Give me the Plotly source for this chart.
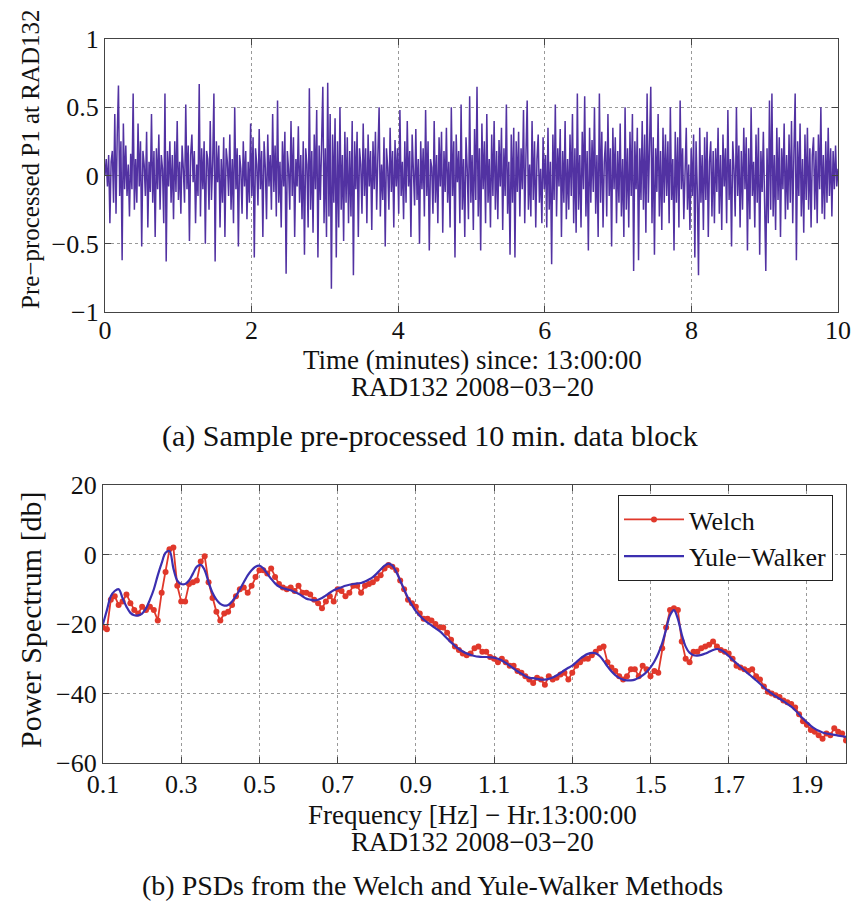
import plotly.graph_objects as go

# ---------------- data ----------------
# top panel: pre-processed signal (hundredths), one value per second over 10 minutes
signal_centi = [
    0, 12, -8, 15, -35, 10, 18, -20, 45, -28, 30, 66, -15, 25, -62, 38, -10, 22, -15, 8,
    -30, 16, -10, 60, -25, 12, -20, 38, -8, 25, -52, 18, 8, -15, 32, -38, 10, -12, 45, -20,
    18, -45, 20, -10, 30, -25, 15, 5, -35, 60, -63, 18, -8, 25, -20, 15, -32, 25, -12, 40,
    -18, 10, -28, 22, 5, -20, 52, -10, 22, -48, 15, 30, -5, 18, -35, 8, -15, 67, -30, 20,
    -10, 25, -50, 18, 12, -25, 40, -18, 10, 60, -63, 25, -5, 22, -38, 12, -20, 28, -45, 20,
    10, -15, 30, -25, 12, -35, 50, -10, 20, -52, 15, 5, -28, 25, -8, 18, -32, 10, -20, 38,
    -15, 28, -60, 20, 8, -22, 34, -10, 18, -45, 25, 6, -32, 30, -8, 15, -25, 45, -12, 22,
    -30, 55, -20, 10, -38, 25, -8, 32, -72, 18, 5, -25, 40, -15, 28, -45, 12, -8, 36, -20,
    15, -32, 25, -58, 20, 8, -38, 64, -25, 18, -42, 30, -10, 48, -60, 22, -18, 35, 65, -35,
    20, -45, 68, -30, 45, -83, 30, -20, 42, -60, 25, -38, 50, -25, 15, -48, 32, -20, 28, -35,
    18, -30, 40, -73, 25, -10, 32, -45, 20, 8, -28, 38, -15, 20, -35, 30, -8, 18, -40, 25,
    -10, 32, -25, 15, 50, -30, 8, -18, 28, -52, 20, 6, -25, 35, -12, 18, -38, 26, -8, 20,
    -28, 48, -15, 10, -32, 25, -20, 40, -8, 18, -45, 30, 5, -22, 34, -18, 12, -50, 25, -10,
    20, -30, 48, -15, 25, -55, 12, 6, -28, 40, -20, 15, -35, 28, -8, 32, -42, 18, -12, 35,
    -20, 10, -38, 50, -15, 25, -60, 30, -5, 18, -35, 52, -25, 12, -45, 28, 5, -32, 58, -20,
    15, -40, 34, -18, 65, -30, 20, -55, 38, -10, 25, -35, 45, -20, 12, -38, 30, -15, 40, -25,
    18, -32, 26, -8, 35, -40, 20, -15, 52, -28, 10, -58, 30, -20, 35, -60, 25, -12, 32, -30,
    20, -10, 48, -35, 15, 55, -25, 8, -30, 40, -18, 25, -38, 12, 30, -20, 5, -35, 28, -10,
    15, -38, 35, -25, 10, -65, 30, -18, 52, -30, 20, -8, 34, -45, 18, -20, 40, -32, 12, -25,
    30, -15, 45, -35, 20, -42, 60, -25, 15, -38, 32, -10, 58, -30, 18, -55, 35, -20, 26, -12,
    50, -28, 15, -45, 60, -20, 32, -38, 10, 25, -30, 45, -15, 20, -52, 35, -10, 28, -35, 18,
    -20, 38, -30, 12, -45, 50, -25, 20, -38, 32, -15, 45, -70, 25, -10, 35, -62, 20, -18, 40,
    -25, 30, -42, 60, -20, 15, 65, -35, 28, -58, 20, -12, 45, -30, 18, -40, 35, -20, 30, -15,
    25, -35, 50, -18, 12, -55, 32, -20, 28, -38, 55, -10, 20, -32, 15, 35, -25, 8, -40, 20,
    -15, 30, -60, 25, -10, -73, 35, -20, 15, -40, 28, -18, 32, -45, 10, 25, -30, 18, -35, 20,
    -12, 35, -28, 15, -40, 30, -8, 20, -35, 48, -18, 12, -52, 25, 5, -30, 50, -15, 22, -38,
    18, -25, 35, -10, 28, -55, 20, -32, 50, -15, 10, -38, 30, -20, 35, -58, 18, -12, 32, -28,
    -70, 20, -35, 55, -25, 60, -30, 15, -40, 35, -18, 28, -45, 20, -10, 38, -32, 15, -25, 30,
    -20, 40, -35, 18, 60, -62, 25, -15, 38, -30, 12, -42, 30, -18, 35, -25, 20, -38, 15, 28,
    -25, 18, -35, 30, -10, 50, -28, 15, -32, 25, -20, 35, -15, 20, -30, 18, -10, 22, -8, 5,
]
signal = [v / 100 for v in signal_centi]
time_min = [i * 10 / (len(signal) - 1) for i in range(len(signal))]

# bottom panel: frequencies 0.10 ... 2.00 Hz step 0.01
freq = [round(0.10 + 0.01 * i, 2) for i in range(191)]
welch_db = [
    -21, -21.5, -13, -12, -14.5, -13.5, -11.5, -14, -16, -17,
    -15, -16, -15, -16, -19, -11, -5, 1.5, 2, -9,
    -13.5, -13.5, -8.5, -8, -7.5, -2, -0.5, -8, -12.5, -16.5,
    -19, -17, -16.5, -14.5, -12, -10, -9.5, -11, -9, -6.5,
    -4.5, -4.5, -5.5, -4, -6.5, -8.5, -9.5, -10, -9.5, -10.5,
    -9, -11, -11, -11.5, -13, -14, -15.5, -13.5, -12, -13.5,
    -10, -10.5, -12, -11, -9, -9, -11, -9, -8.5, -8,
    -7, -6, -4, -3, -3.5, -4.5, -7.5, -10, -13, -14,
    -15, -17, -18.5, -18.5, -19, -20, -21, -21, -22.5, -24.5,
    -26.5, -27.5, -28.5, -29, -28.5, -27, -26.5, -28, -28, -29.5,
    -30, -31, -30, -31, -32, -32, -33.5, -34, -35, -36,
    -37, -35.5, -36, -37.5, -35, -36, -35.5, -34.5, -34, -36,
    -34, -32, -31, -30, -30, -29, -28, -27, -26.5, -31,
    -32.5, -33.5, -35, -36, -35, -33, -33, -35, -32, -33,
    -35, -33.5, -34, -27, -21, -16, -15.5, -16, -25, -30,
    -31, -28, -28, -27, -26.5, -26, -25, -26.5, -27.5, -28,
    -28.5, -30, -32, -32.5, -33, -33.5, -33, -35, -36, -38,
    -39.5, -40, -40.5, -41, -42, -42.5, -43, -44, -46, -48,
    -49, -50.5, -51, -52, -53, -51.5, -52, -50, -51, -51.5,
    -53.5,
]
yule_walker_db = [
    -20, -16, -12, -10.5, -10, -12.5, -15, -16.8, -17.5, -17.5,
    -17, -15.5, -13, -10, -6, -2.5, 0.5, 1, -4, -7.5,
    -8.5, -8.5, -7.5, -5.5, -3.5, -3, -4.5, -8, -11, -13,
    -14.2, -14.7, -14.5, -13.5, -12, -10, -8, -6, -4.5, -3.5,
    -3.2, -4, -5.5, -7, -8.3, -9.2, -9.7, -10, -10.3, -10.8,
    -11.3, -12, -12.7, -13, -13.2, -13, -12.5, -11.8, -11, -10.3,
    -9.8, -9.4, -9, -8.7, -8.5, -8.3, -8.2, -7.8, -7.2, -6.5,
    -5.5, -4.3, -3.2, -2.6, -3.2, -5, -7.5, -10, -12.5, -14.5,
    -16.3, -17.6, -18.7, -19.6, -20.4, -21.2, -22, -23, -24.2, -25.3,
    -26.3, -27.2, -27.9, -28.5, -28.9, -29.2, -29.4, -29.5, -29.5, -29.6,
    -29.7, -30, -30.5, -31.2, -32, -32.8, -33.6, -34.3, -35, -35.5,
    -35.6, -35.8, -36, -36, -35.8, -35.4, -34.8, -34.1, -33.3, -32.6,
    -32, -31, -30, -29.2, -28.6, -28.3, -28.4, -29.2, -30.6, -32.2,
    -33.6, -34.7, -35.5, -36, -36.2, -36.2, -36, -35.5, -34.8, -33.8,
    -32.5, -30.8, -28.5, -25.5, -21.5, -17.5, -16, -18.5, -23, -26.5,
    -28.3, -29, -29.1, -28.9, -28.5, -28, -27.5, -27.2, -27.5, -28.2,
    -29.2, -30.3, -31.3, -32.3, -33.3, -34.3, -35.2, -36.2, -37.2, -38.2,
    -39.2, -40, -40.8, -41.5, -42.2, -43, -43.8, -44.8, -46, -47.2,
    -48.3, -49.3, -50.1, -50.7, -51.2, -51.5, -51.7, -51.9, -52.1, -52.3,
    -52.5,
]

time_ticks = [0, 2, 4, 6, 8, 10]
sig_ticks = [-1, -0.5, 0, 0.5, 1]
freq_ticks = [0.1, 0.3, 0.5, 0.7, 0.9, 1.1, 1.3, 1.5, 1.7, 1.9]
psd_ticks = [-60, -40, -20, 0, 20]

# ---------------- figure ----------------
W, H = 852, 902
FONT = "Liberation Serif"

def px_x(p):
    return p / W

def px_y(p):
    return 1 - p / H

fig = go.Figure()
fig.add_trace(go.Scatter(x=time_min, y=signal, mode="lines",
                         line=dict(color="#5232a2", width=1.5),
                         showlegend=False, xaxis="x", yaxis="y"))
fig.add_trace(go.Scatter(x=freq, y=welch_db, mode="lines+markers", name="Welch",
                         line=dict(color="#e0382b", width=1.8),
                         marker=dict(color="#e0382b", size=6),
                         xaxis="x2", yaxis="y2"))
fig.add_trace(go.Scatter(x=freq, y=yule_walker_db, mode="lines", name="Yule−Walker",
                         line=dict(color="#3b2fb0", width=2.2, shape="spline"),
                         xaxis="x2", yaxis="y2"))

axis_common = dict(showline=True, mirror="allticks", linecolor="#444", linewidth=1.3,
                   ticks="inside", ticklen=6, tickcolor="#444", automargin=False,
                   showgrid=True, gridcolor="#999", griddash="dot", gridwidth=1,
                   zeroline=False, tickfont=dict(family=FONT, size=26, color="#111"))

fig.update_layout(
    width=W, height=H, margin=dict(l=0, r=0, t=0, b=0, autoexpand=False),
    paper_bgcolor="white", plot_bgcolor="white",
    font=dict(family=FONT, color="#111"),
    xaxis=dict(domain=[px_x(105), px_x(838)], range=[0, 10], tickvals=time_ticks,
               anchor="y", ticklabelstandoff=-5, **axis_common),
    yaxis=dict(domain=[px_y(312), px_y(39)], range=[-1, 1], tickvals=sig_ticks,
               ticktext=["−1", "−0.5", "0", "0.5", "1"], anchor="x", **axis_common),
    xaxis2=dict(domain=[px_x(103), px_x(846)], range=[0.1, 2.0], tickvals=freq_ticks,
                ticktext=[f"{v:.1f}" for v in freq_ticks], anchor="y2",
                ticklabelstandoff=-2, **axis_common),
    yaxis2=dict(domain=[px_y(763), px_y(485)], range=[-60, 20], tickvals=psd_ticks,
                anchor="x2", **axis_common),
    legend=dict(x=px_x(833), y=px_y(495), xanchor="right", yanchor="top",
                bordercolor="#222", borderwidth=1, bgcolor="white",
                font=dict(family=FONT, size=26, color="#111"),
                tracegroupgap=0, itemwidth=60),
    showlegend=True,
)

annotations = [
    dict(text="Pre−processed P1 at RAD132", x=px_x(30), y=px_y(160), textangle=-90,
         font=dict(size=25)),
    dict(text="Time (minutes) since: 13:00:00", x=px_x(472), y=px_y(360), font=dict(size=27)),
    dict(text="RAD132 2008−03−20", x=px_x(472), y=px_y(387), font=dict(size=27)),
    dict(text="(a) Sample pre-processed 10 min. data block", x=px_x(430), y=px_y(436),
         font=dict(size=30)),
    dict(text="Power Spectrum [db]", x=px_x(30), y=px_y(620), textangle=-90,
         font=dict(size=30)),
    dict(text="Frequency [Hz] − Hr.13:00:00", x=px_x(472), y=px_y(815), font=dict(size=27)),
    dict(text="RAD132 2008−03−20", x=px_x(472), y=px_y(842), font=dict(size=27)),
    dict(text="(b) PSDs from the Welch and Yule-Walker Methods", x=px_x(432), y=px_y(885),
         font=dict(size=28)),
]
for a in annotations:
    a.update(xref="paper", yref="paper", showarrow=False, xanchor="center", yanchor="middle")
    a["font"].update(family=FONT, color="#111")
fig.update_layout(annotations=annotations)

# remove the page's default 8 px body margin so the figure fills the 852x902 window exactly
fig.write_html("out.html",
               config={"displayModeBar": False},
               post_script="document.body.style.margin='0';"
                           "document.documentElement.style.overflow='hidden';")
